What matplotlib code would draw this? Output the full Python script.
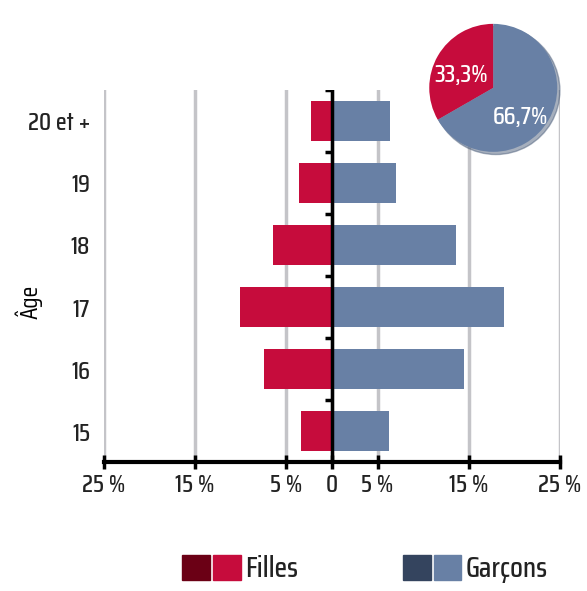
import numpy as np
import matplotlib.pyplot as plt
from matplotlib.patches import Patch
from matplotlib.legend_handler import HandlerTuple

plt.rcParams['font.family'] = ['Saira Condensed', 'DejaVu Sans']
plt.rcParams['font.weight'] = 'medium'
plt.rcParams['text.color'] = '#222222'
plt.rcParams['xtick.color'] = '#222222'
plt.rcParams['ytick.color'] = '#222222'

# Données
ages = ["15", "16", "17", "18", "19", "20 et +"]
filles = [3.4, 7.4, 10.1, 6.5, 3.6, 2.3]
garcons = [6.3, 14.5, 18.9, 13.6, 7.0, 6.4]
parts = [33.3, 66.7]
parts_labels = ["33,3%", "66,7%"]
xticks = [-25, -15, -5, 0, 5, 15, 25]
xlabels = ["25 %", "15 %", "5 %", "0", "5 %", "15 %", "25 %"]

rouge, rouge_fonce = "#c60c3c", "#6b0015"
bleu, bleu_fonce = "#6880a5", "#34445e"

fig = plt.figure(figsize=(5.87, 5.91), dpi=100)
ax = fig.add_axes([0.177, 0.218, 0.777, 0.63])

y = np.arange(len(ages))
ax.barh(y, -np.array(filles), height=0.65, color=rouge, zorder=2)
ax.barh(y, garcons, height=0.65, color=bleu, zorder=2)

ax.set_xlim(-25, 25)
ax.set_ylim(-0.5, len(ages) - 0.5)
ax.set_xticks(xticks, xlabels, fontsize=18)
ax.set_yticks(y, ages, fontsize=18)
ax.tick_params(axis='y', length=0, pad=10)
ax.tick_params(axis='x', direction='inout', length=10, width=2.5, pad=3, colors='black', labelcolor='#222222')
ax.grid(axis='x', color="#c4c4c8", linewidth=2.5)
ax.set_axisbelow(True)
for s in ['top', 'right', 'left']:
    ax.spines[s].set_visible(False)
ax.spines['bottom'].set_linewidth(3)
ax.set_ylabel("Âge", fontsize=18)
ax.yaxis.set_label_coords(-0.135, 0.43)

# axe central avec graduations entre les classes
ax.axvline(0, color="black", linewidth=2.5, zorder=3)
ax.hlines(np.arange(len(ages) + 1) - 0.5, -0.8, 0, color="black", linewidth=2.5, zorder=3)

# Camembert
axp = fig.add_axes([0.704, 0.716, 0.2726, 0.2707])
wedges, texts = axp.pie(parts, colors=[rouge, bleu], startangle=90,
                        counterclock=True, shadow={'ox': 0.03, 'oy': -0.03, 'shade': 0.25})
axp.text(-0.5, 0.2, parts_labels[0], color="white", fontsize=18, ha='center', va='center')
axp.text(0.42, -0.45, parts_labels[1], color="white", fontsize=18, ha='center', va='center')
axp.set_aspect('equal')

# Légende
handles = [(Patch(color=rouge_fonce), Patch(color=rouge)),
           (Patch(color=bleu_fonce), Patch(color=bleu))]
fig.legend(handles, ["Filles", "Garçons"], loc='center', bbox_to_anchor=(0.622, 0.037),
           ncol=2, frameon=False, fontsize=21, columnspacing=3.6, handletextpad=0.15,
           handlelength=2.0, handleheight=0.93, borderpad=0,
           handler_map={tuple: HandlerTuple(ndivide=None, pad=0.1)})

fig.savefig("out.png", dpi=100)
